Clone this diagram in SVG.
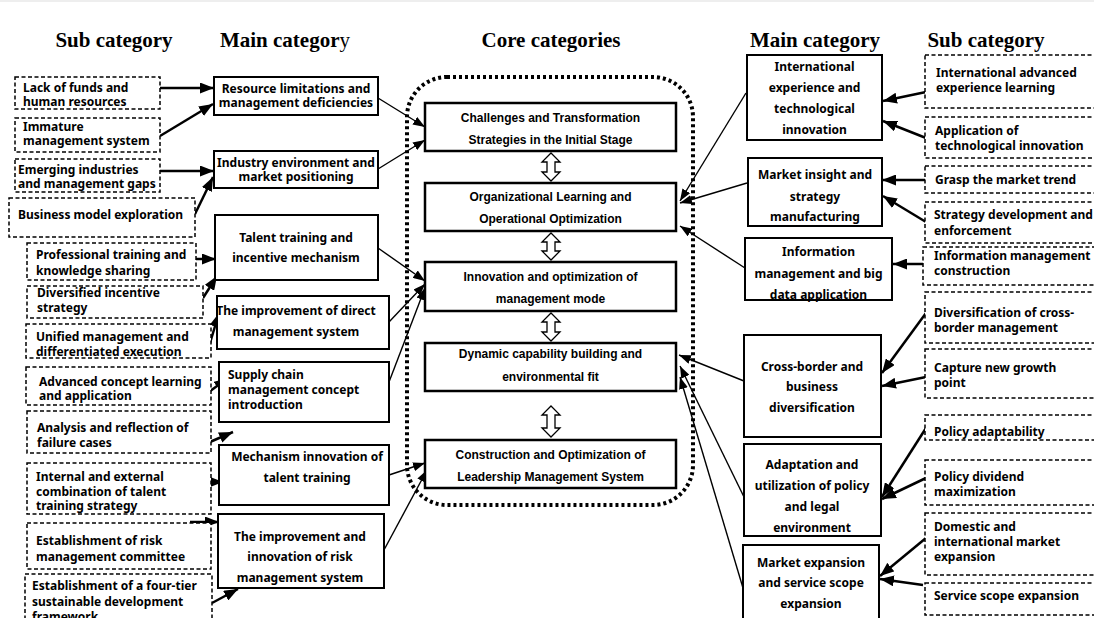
<svg xmlns="http://www.w3.org/2000/svg" width="1094" height="618" viewBox="0 0 1094 618">
<style>
.sub{fill:#fff;stroke:#000;stroke-width:1.5;stroke-dasharray:4 2.5}
.main{fill:#fff;stroke:#000;stroke-width:2}
.core{fill:#fff;stroke:#000;stroke-width:2.5}
.t{font-family:"Noto Sans","Open Sans",sans-serif;font-weight:bold;font-size:12px;fill:#000}
.tc{text-anchor:middle}
.ct{font-family:"Liberation Sans",Arial,sans-serif;font-weight:bold;font-size:12px;text-anchor:middle;fill:#000}
.h{font-family:"Liberation Serif","Times New Roman",serif;font-weight:bold;font-size:21px;text-anchor:middle;fill:#000}
.thick{stroke:#000;stroke-width:2.5;fill:none;marker-end:url(#ah)}
.thin{stroke:#000;stroke-width:1.4;fill:none;marker-end:url(#as)}
.dbl{fill:#fff;stroke:#000;stroke-width:1.3}
</style>
<defs>
<marker id="ah" markerUnits="userSpaceOnUse" markerWidth="14" markerHeight="11" refX="14" refY="5.5" orient="auto"><path d="M0,0 L14,5.5 L0,11 z" fill="#000"/></marker>
<marker id="as" markerUnits="userSpaceOnUse" markerWidth="12" markerHeight="9" refX="12" refY="4.5" orient="auto"><path d="M0,0 L12,4.5 L0,9 z" fill="#000"/></marker>
</defs>
<rect width="1094" height="618" fill="#fff"/>
<line x1="0" y1="1" x2="1094" y2="1" stroke="#ddd" stroke-width="1"/>
<g id="headers">
<text class="h" x="114" y="47">Sub category</text>
<text class="h" x="285" y="47">Main categor<tspan font-weight="normal">y</tspan></text>
<text class="h" x="551" y="47">Core categories</text>
<text class="h" x="815" y="47">Main category</text>
<text class="h" x="986" y="47">Sub category</text>
</g>
<g id="core-container"><rect x="407" y="77" width="286" height="428" rx="40" fill="none" stroke="#000" stroke-width="4" stroke-dasharray="3 3"/></g>
<g id="connectors">
<path class="thick" d="M160,88 L214,88"/>
<path class="thick" d="M160,136 L213,104"/>
<path class="thick" d="M160,171 L214,171"/>
<path class="thick" d="M195,214 L213,177"/>
<path class="thick" d="M196,259 L216,259"/>
<path class="thick" d="M203,298 L217,276"/>
<path class="thick" d="M210,343 L219,313"/>
<path class="thick" d="M202,397 L228,378"/>
<path class="thick" d="M203,445 L233,432"/>
<path class="thick" d="M195,482 L223,482"/>
<path class="thick" d="M190,522 L219,522"/>
<path class="thick" d="M212,603 L238,589"/>
<path class="thin" d="M378,98 L425,127"/>
<path class="thin" d="M378,169 L425,140"/>
<path class="thin" d="M378,248 L425,281"/>
<path class="thin" d="M389,322 L425,284"/>
<path class="thin" d="M389,382 L425,288"/>
<path class="thin" d="M389,475 L425,463"/>
<path class="thin" d="M384,550 L427,470"/>
<path class="thin" d="M746,93 L680,201"/>
<path class="thin" d="M747,183 L680,203"/>
<path class="thin" d="M745,268 L680,226"/>
<path class="thin" d="M744,381 L679,355"/>
<path class="thin" d="M744,497 L680,366"/>
<path class="thin" d="M743,588 L680,377"/>
<path class="thick" d="M926,92 L883,101"/>
<path class="thick" d="M926,138 L883,121"/>
<path class="thick" d="M926,180 L882,180"/>
<path class="thick" d="M926,222 L883,196"/>
<path class="thick" d="M923,264 L893,264"/>
<path class="thick" d="M926,313 L882,373"/>
<path class="thick" d="M926,377 L882,386"/>
<path class="thick" d="M926,428 L882,497"/>
<path class="thick" d="M926,478 L882,499"/>
<path class="thick" d="M926,538 L880,576"/>
<path class="thick" d="M923,585 L880,579"/>
<polygon class="dbl" points="551,153 560,162 555,162 555,172 560,172 551,181 542,172 547,172 547,162 542,162"/>
<polygon class="dbl" points="551,233 560,242 555,242 555,251 560,251 551,260 542,251 547,251 547,242 542,242"/>
<polygon class="dbl" points="551,313 560,322 555,322 555,332 560,332 551,341 542,332 547,332 547,322 542,322"/>
<polygon class="dbl" points="551,406 560,415 555,415 555,428 560,428 551,437 542,428 547,428 547,415 542,415"/>
</g>
<g id="s1"><rect class="sub" x="15" y="77" width="145" height="32"/><text class="t" x="23" y="92">Lack of funds and</text><text class="t" x="23" y="106">human resources</text></g>
<g id="s2"><rect class="sub" x="15" y="118" width="145" height="34"/><text class="t" x="23" y="131">Immature</text><text class="t" x="23" y="145">management system</text></g>
<g id="s3"><rect class="sub" x="15" y="159" width="145" height="33"/><text class="t" x="18" y="174">Emerging industries</text><text class="t" x="18" y="188">and management gaps</text></g>
<g id="s4"><rect class="sub" x="9" y="198" width="186" height="39"/><text class="t" x="18" y="219">Business model exploration</text></g>
<g id="s5"><rect class="sub" x="27" y="243" width="169" height="37"/><text class="t" x="36" y="259">Professional training and</text><text class="t" x="36" y="275">knowledge sharing</text></g>
<g id="s6"><rect class="sub" x="27" y="286" width="176" height="32"/><text class="t" x="37" y="297">Diversified incentive</text><text class="t" x="37" y="312">strategy</text></g>
<g id="s7"><rect class="sub" x="26" y="324" width="185" height="34"/><text class="t" x="36" y="341">Unified management and</text><text class="t" x="36" y="356">differentiated execution</text></g>
<g id="s8"><rect class="sub" x="26" y="367" width="185" height="38"/><text class="t" x="39" y="386">Advanced concept learning</text><text class="t" x="39" y="400">and application</text></g>
<g id="s9"><rect class="sub" x="27" y="411" width="184" height="42"/><text class="t" x="37" y="432">Analysis and reflection of</text><text class="t" x="37" y="447">failure cases</text></g>
<g id="s10"><rect class="sub" x="27" y="463" width="184" height="51"/><text class="t" x="36" y="481">Internal and external</text><text class="t" x="36" y="496">combination of talent</text><text class="t" x="36" y="510">training strategy</text></g>
<g id="s11"><rect class="sub" x="27" y="523" width="184" height="46"/><text class="t" x="36" y="545">Establishment of risk</text><text class="t" x="36" y="561">management committee</text></g>
<g id="s12"><rect class="sub" x="25" y="574" width="187" height="60"/><text class="t" x="32" y="590">Establishment of a four-tier</text><text class="t" x="32" y="606">sustainable development</text><text class="t" x="32" y="621">framework</text></g>
<g id="mA"><rect class="main" x="214" y="77" width="164" height="38"/><text class="t tc" x="296" y="93">Resource limitations and</text><text class="t tc" x="296" y="107">management deficiencies</text></g>
<g id="mB"><rect class="main" x="214" y="151" width="164" height="37"/><text class="t tc" x="296" y="167">Industry environment and</text><text class="t tc" x="296" y="181">market positioning</text></g>
<g id="mC"><rect class="main" x="215" y="215" width="163" height="65"/><text class="t tc" x="296" y="242">Talent training and</text><text class="t tc" x="296" y="262">incentive mechanism</text></g>
<g id="mD"><rect class="main" x="217" y="296" width="172" height="53"/><text class="t tc" x="296" y="315">The improvement of direct</text><text class="t tc" x="296" y="336">management system</text></g>
<g id="mE"><rect class="main" x="219" y="362" width="170" height="60"/><text class="t" x="228" y="379">Supply chain</text><text class="t" x="228" y="394">management concept</text><text class="t" x="228" y="409">introduction</text></g>
<g id="mF"><rect class="main" x="219" y="445" width="170" height="60"/><text class="t tc" x="307" y="461">Mechanism innovation of</text><text class="t tc" x="307" y="482">talent training</text></g>
<g id="mG"><rect class="main" x="218" y="514" width="166" height="74"/><text class="t tc" x="300" y="541">The improvement and</text><text class="t tc" x="300" y="561">innovation of risk</text><text class="t tc" x="300" y="582">management system</text></g>
<g id="c1"><rect class="core" x="425" y="103" width="251" height="48"/><text class="ct" x="550.5" y="122">Challenges and Transformation</text><text class="ct" x="550.5" y="144">Strategies in the Initial Stage</text></g>
<g id="c2"><rect class="core" x="425" y="183" width="251" height="48"/><text class="ct" x="550.5" y="201">Organizational Learning and</text><text class="ct" x="550.5" y="223">Operational Optimization</text></g>
<g id="c3"><rect class="core" x="425" y="262" width="251" height="49"/><text class="ct" x="550.5" y="281">Innovation and optimization of</text><text class="ct" x="550.5" y="303">management mode</text></g>
<g id="c4"><rect class="core" x="425" y="343" width="251" height="48"/><text class="ct" x="550.5" y="358">Dynamic capability building and</text><text class="ct" x="550.5" y="381">environmental fit</text></g>
<g id="c5"><rect class="core" x="425" y="440" width="251" height="48"/><text class="ct" x="550.5" y="459">Construction and Optimization of</text><text class="ct" x="550.5" y="481">Leadership Management System</text></g>
<g id="ra"><rect class="main" x="747" y="55" width="135" height="85"/><text class="t tc" x="814.5" y="71">International</text><text class="t tc" x="814.5" y="92">experience and</text><text class="t tc" x="814.5" y="113">technological</text><text class="t tc" x="814.5" y="134">innovation</text></g>
<g id="rb"><rect class="main" x="748" y="158" width="134" height="68"/><text class="t tc" x="815" y="179">Market insight and</text><text class="t tc" x="815" y="201">strategy</text><text class="t tc" x="815" y="221">manufacturing</text></g>
<g id="rc"><rect class="main" x="745" y="238" width="147" height="62"/><text class="t tc" x="818.5" y="256">Information</text><text class="t tc" x="818.5" y="278">management and big</text><text class="t tc" x="818.5" y="299">data application</text></g>
<g id="rd"><rect class="main" x="744" y="335" width="137" height="102"/><text class="t tc" x="812" y="371">Cross-border and</text><text class="t tc" x="812" y="391">business</text><text class="t tc" x="812" y="412">diversification</text></g>
<g id="re"><rect class="main" x="744" y="444" width="137" height="92"/><text class="t tc" x="812" y="469">Adaptation and</text><text class="t tc" x="812" y="490">utilization of policy</text><text class="t tc" x="812" y="511">and legal</text><text class="t tc" x="812" y="532">environment</text></g>
<g id="rf"><rect class="main" x="743" y="545" width="136" height="80"/><text class="t tc" x="811" y="567">Market expansion</text><text class="t tc" x="811" y="587">and service scope</text><text class="t tc" x="811" y="608">expansion</text></g>
<g id="ri"><rect class="sub" x="925" y="55" width="180" height="53"/><text class="t" x="936" y="77">International advanced</text><text class="t" x="936" y="92">experience learning</text></g>
<g id="rii"><rect class="sub" x="925" y="117" width="180" height="41"/><text class="t" x="935" y="135">Application of</text><text class="t" x="935" y="150">technological innovation</text></g>
<g id="riii"><rect class="sub" x="925" y="166" width="180" height="27"/><text class="t" x="935" y="184">Grasp the market trend</text></g>
<g id="riv"><rect class="sub" x="925" y="202" width="180" height="41"/><text class="t" x="934" y="219">Strategy development and</text><text class="t" x="934" y="235">enforcement</text></g>
<g id="rv"><rect class="sub" x="923" y="247" width="180" height="38"/><text class="t" x="934" y="260">Information management</text><text class="t" x="934" y="275">construction</text></g>
<g id="rvi"><rect class="sub" x="925" y="292" width="180" height="51"/><text class="t" x="934" y="317">Diversification of cross-</text><text class="t" x="934" y="332">border management</text></g>
<g id="rvii"><rect class="sub" x="925" y="349" width="180" height="49"/><text class="t" x="934" y="372">Capture new growth</text><text class="t" x="934" y="387">point</text></g>
<g id="rviii"><rect class="sub" x="925" y="415" width="180" height="25"/><text class="t" x="934" y="436">Policy adaptability</text></g>
<g id="rix"><rect class="sub" x="925" y="460" width="180" height="45"/><text class="t" x="934" y="481">Policy dividend</text><text class="t" x="934" y="496">maximization</text></g>
<g id="rx"><rect class="sub" x="925" y="513" width="180" height="62"/><text class="t" x="934" y="531">Domestic and</text><text class="t" x="934" y="546">international market</text><text class="t" x="934" y="561">expansion</text></g>
<g id="rxi"><rect class="sub" x="925" y="583" width="180" height="32"/><text class="t" x="934" y="600">Service scope expansion</text></g>
</svg>
